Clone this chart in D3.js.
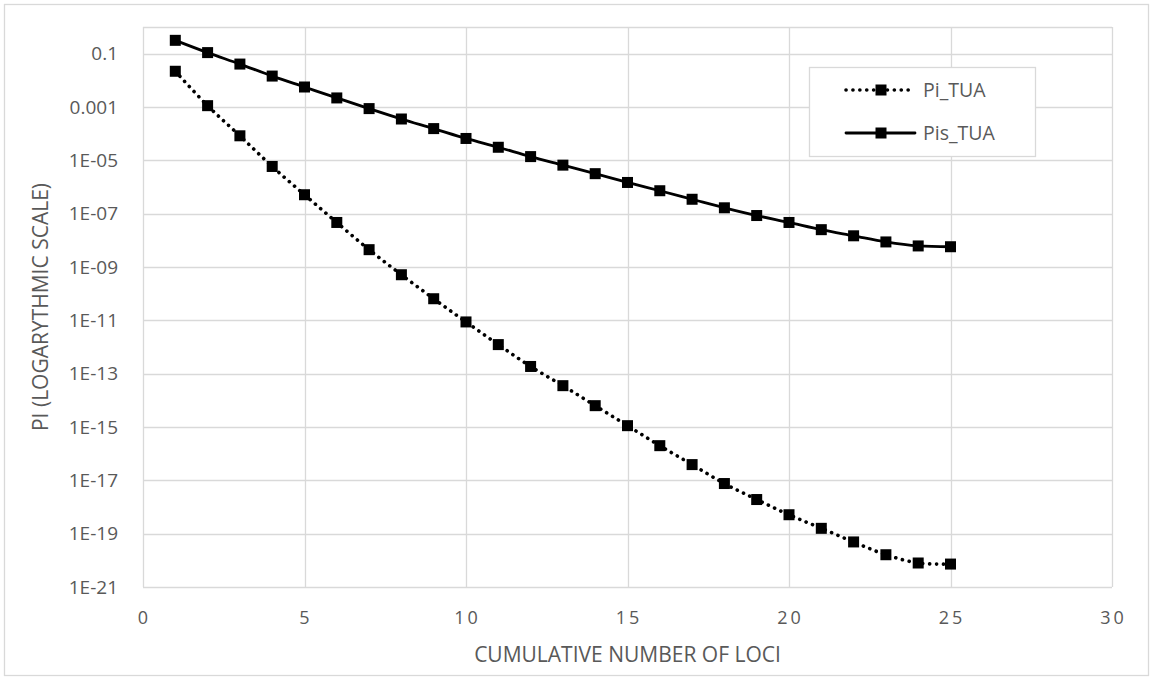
<!DOCTYPE html>
<html>
<head>
<meta charset="utf-8">
<script src="https://cdn.jsdelivr.net/npm/d3@7"></script>
<style>
  body { margin: 0; background: #fff; }
  text { font-family: "Open Sans", "Liberation Sans", sans-serif; fill: #595959; }
</style>
</head>
<body>
<svg id="chart" width="1153" height="677"></svg>
<script>
// data (log10 of the values)
var loci = [1,2,3,4,5,6,7,8,9,10,11,12,13,14,15,16,17,18,19,20,21,22,23,24,25];
var piLog = [-1.66,-2.95,-4.08,-5.23,-6.29,-7.33,-8.35,-9.29,-10.19,-11.06,-11.91,-12.73,-13.45,-14.2,-14.95,-15.7,-16.41,-17.12,-17.72,-18.29,-18.8,-19.31,-19.79,-20.1,-20.14];
var pisLog = [-0.5,-0.96,-1.39,-1.84,-2.25,-2.66,-3.06,-3.45,-3.81,-4.18,-4.51,-4.86,-5.18,-5.5,-5.83,-6.14,-6.46,-6.78,-7.07,-7.33,-7.6,-7.83,-8.06,-8.21,-8.24];
var yTicks = [1e-1,1e-3,1e-5,1e-7,1e-9,1e-11,1e-13,1e-15,1e-17,1e-19,1e-21];
var yTickLabels = ["0.1","0.001","1E-05","1E-07","1E-09","1E-11","1E-13","1E-15","1E-17","1E-19","1E-21"];
var xTicks = [0,5,10,15,20,25,30];

var svg = d3.select('#chart');
var plotLeft = 143, plotRight = 1112, plotTop = 27, plotBottom = 587;

// outer frame
svg.append('rect').attr('x', 4.5).attr('y', 4.5).attr('width', 1144).attr('height', 671)
   .attr('fill', '#fff').attr('stroke', '#d9d9d9').attr('stroke-width', 1.3);

var x = d3.scaleLinear().domain([0, 30]).range([plotLeft, plotRight]);
var y = d3.scaleLog().domain([1e-21, 1]).range([plotBottom, plotTop]);

// gridlines
svg.append('g').selectAll('line').data(yTicks.concat([1])).enter().append('line')
   .attr('x1', plotLeft).attr('x2', plotRight)
   .attr('y1', function(d){ return Math.round(y(d)) + 0.5; })
   .attr('y2', function(d){ return Math.round(y(d)) + 0.5; })
   .attr('stroke', '#d9d9d9').attr('stroke-width', 1.3);
svg.append('g').selectAll('line').data(xTicks).enter().append('line')
   .attr('y1', plotTop).attr('y2', plotBottom)
   .attr('x1', function(d){ return Math.round(x(d)) + 0.5; })
   .attr('x2', function(d){ return Math.round(x(d)) + 0.5; })
   .attr('stroke', '#d9d9d9').attr('stroke-width', 1.3);

// tick labels
svg.append('g').selectAll('text').data(yTicks).enter().append('text')
   .attr('x', 118).attr('y', function(d){ return y(d); })
   .attr('dy', '0.35em').attr('text-anchor', 'end')
   .style('font-size', '19px')
   .text(function(d, i){ return yTickLabels[i]; });
svg.append('g').selectAll('text').data(xTicks).enter().append('text')
   .attr('x', function(d){ return x(d) + 1.5; }).attr('y', 624)
   .attr('text-anchor', 'middle')
   .style('font-size', '18px').style('letter-spacing', '3px')
   .text(function(d){ return d; });

// axis titles
svg.append('text').attr('x', (plotLeft + plotRight) / 2).attr('y', 662)
   .attr('text-anchor', 'middle').style('font-size', '21px')
   .text('CUMULATIVE NUMBER OF LOCI');
svg.append('text').attr('transform', 'translate(48,' + ((plotTop + plotBottom) / 2) + ') rotate(-90)')
   .attr('text-anchor', 'middle').style('font-size', '21px')
   .text('PI (LOGARYTHMIC SCALE)');

// series
var series = [
  { name: 'Pi_TUA', vals: piLog, dash: '0.1 6.8' },
  { name: 'Pis_TUA', vals: pisLog, dash: null }
];
var line = d3.line()
    .x(function(d){ return x(d[0]); })
    .y(function(d){ return y(Math.pow(10, d[1])); })
    .curve(d3.curveCatmullRom.alpha(0.5));

series.forEach(function(s){
  var pts = loci.map(function(l, i){ return [l, s.vals[i]]; });
  svg.append('path').datum(pts).attr('d', line)
     .attr('fill', 'none').attr('stroke', '#000')
     .attr('stroke-width', s.dash ? 3.6 : 2.8)
     .attr('stroke-linecap', 'round')
     .attr('stroke-dasharray', s.dash);
  svg.append('g').selectAll('rect').data(pts).enter().append('rect')
     .attr('x', function(d){ return x(d[0]) - 5.5; })
     .attr('y', function(d){ return y(Math.pow(10, d[1])) - 5.5; })
     .attr('width', 11).attr('height', 11).attr('fill', '#000');
});

// legend
var lg = svg.append('g');
lg.append('rect').attr('x', 809.5).attr('y', 67.5).attr('width', 226).attr('height', 89)
  .attr('fill', '#fff').attr('stroke', '#d9d9d9').attr('stroke-width', 1.3);
series.forEach(function(s, i){
  var ly = 90 + i * 43;
  lg.append('line').attr('x1', 846).attr('x2', 915).attr('y1', ly).attr('y2', ly)
    .attr('stroke', '#000').attr('stroke-width', s.dash ? 3.6 : 2.8)
    .attr('stroke-linecap', 'round').attr('stroke-dasharray', s.dash);
  lg.append('rect').attr('x', 875.5).attr('y', ly - 5.5).attr('width', 11).attr('height', 11).attr('fill', '#000');
  lg.append('text').attr('x', 923).attr('y', ly).attr('dy', '0.35em')
    .style('font-size', '19.5px').text(s.name);
});
</script>
</body>
</html>
